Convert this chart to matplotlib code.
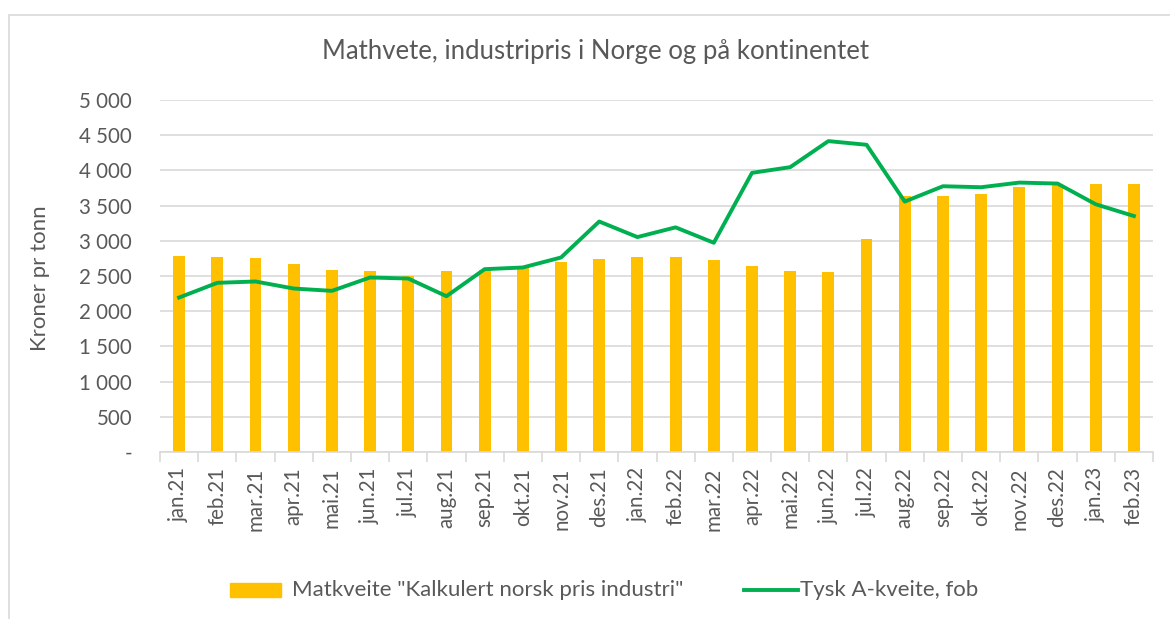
import matplotlib
matplotlib.use("Agg")
import matplotlib.pyplot as plt
from matplotlib.patches import Rectangle
from matplotlib.lines import Line2D
from matplotlib.ticker import FuncFormatter

months = ["jan.21", "feb.21", "mar.21", "apr.21", "mai.21", "jun.21", "jul.21",
          "aug.21", "sep.21", "okt.21", "nov.21", "des.21", "jan.22", "feb.22",
          "mar.22", "apr.22", "mai.22", "jun.22", "jul.22", "aug.22", "sep.22",
          "okt.22", "nov.22", "des.22", "jan.23", "feb.23"]
norsk_pris = [2787, 2773, 2749, 2668, 2592, 2573, 2502, 2569, 2590, 2610, 2697, 2735,
              2764, 2764, 2721, 2635, 2564, 2555, 3020, 3642, 3642, 3666, 3770, 3800,
              3803, 3803]
tysk_pris = [2194, 2403, 2422, 2322, 2289, 2479, 2464, 2213, 2597, 2621, 2763, 3274,
             3053, 3191, 2972, 3965, 4046, 4416, 4364, 3557, 3775, 3761, 3827, 3813,
             3519, 3352]
legend_labels = ['Matkveite "Kalkulert norsk pris industri"', "Tysk A-kveite, fob"]

TXT = "#595959"
GRID = "#D9D9D9"
BAR_C = "#FFC000"
LINE_C = "#00B050"
plt.rcParams['font.family'] = ['Lato', 'DejaVu Sans']

W, H = 1170, 619
fig = plt.figure(figsize=(W / 100, H / 100), dpi=100)

# outer chart border
fig.add_artist(Rectangle((9 / W, -0.1), 1.2, 1 - 15 / H + 0.1, transform=fig.transFigure,
                         fill=False, edgecolor=GRID, linewidth=1.2))

left, right, bottom, top = 160, 1153, 452, 100
ax = fig.add_axes([left / W, 1 - bottom / H, (right - left) / W, (bottom - top) / H])

x = list(range(len(months)))
ax.bar(x, norsk_pris, width=0.31, color=BAR_C, zorder=2)
ax.plot(x, tysk_pris, color=LINE_C, linewidth=2.8, zorder=3)

ax.set_xlim(-0.5, len(months) - 0.5)
ax.set_ylim(0, 5000)
ax.set_yticks(range(0, 5001, 500))
ax.yaxis.set_major_formatter(FuncFormatter(
    lambda v, p: "-" if v == 0 else f"{int(v):,}".replace(",", " ")))
ax.grid(axis="y", color=GRID, linewidth=1.2, zorder=0)
ax.set_axisbelow(True)

ax.set_xticks(x)
ax.set_xticklabels(months, rotation=90)
ax.set_xticks([i - 0.5 for i in range(len(months) + 1)], minor=True)
ax.tick_params(axis="x", which="major", length=0, pad=11, labelsize=14.8, colors=TXT)
ax.tick_params(axis="x", which="minor", length=7, width=1.2, color=GRID)
ax.tick_params(axis="y", length=0, pad=20, labelsize=14.8, colors=TXT)

for s in ["top", "right", "left"]:
    ax.spines[s].set_visible(False)
ax.spines["bottom"].set_color(GRID)
ax.spines["bottom"].set_linewidth(1.2)

fig.text(596 / W, 1 - 52 / H, "Mathvete, industripris i Norge og på kontinentet",
         ha="center", va="center", fontsize=18.5, color=TXT)
fig.text(40 / W, 1 - 278 / H, "Kroner pr tonn", ha="center", va="center",
         rotation=90, fontsize=16, color=TXT)

# legend drawn manually to match placement
ly = 1 - 590 / H
fig.add_artist(Rectangle((230 / W, ly - 7 / H), 51 / W, 14 / H, transform=fig.transFigure,
                         color=BAR_C))
fig.text(292 / W, ly, legend_labels[0], ha="left", va="center", fontsize=16, color=TXT)
fig.add_artist(Line2D([744 / W, 798 / W], [ly, ly], transform=fig.transFigure,
                      color=LINE_C, linewidth=2.8))
fig.text(800 / W, ly, legend_labels[1], ha="left", va="center", fontsize=16, color=TXT)

fig.savefig("out.png", dpi=100)
